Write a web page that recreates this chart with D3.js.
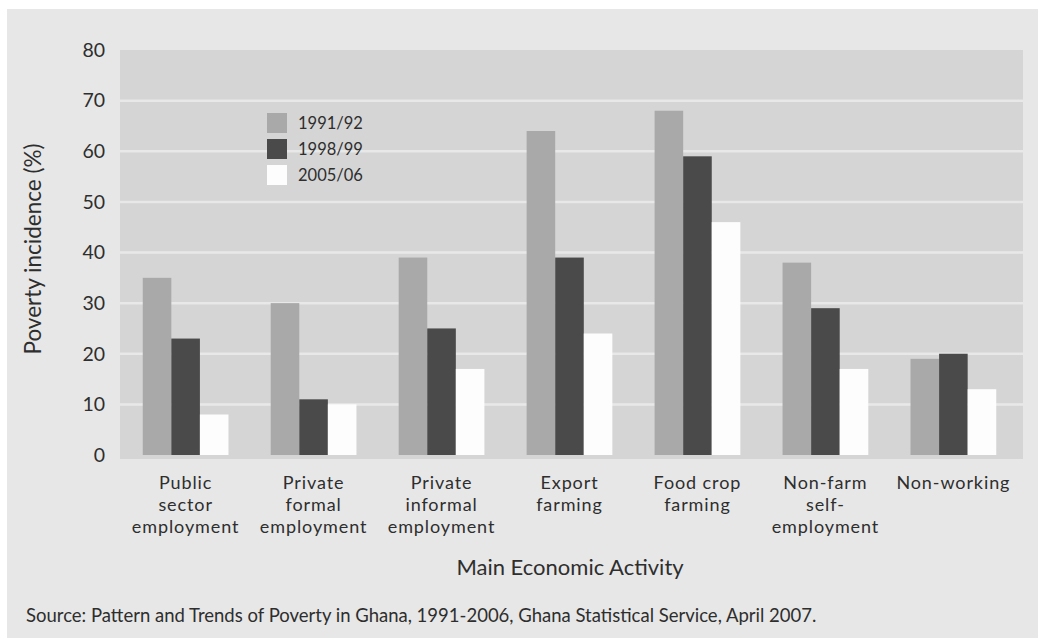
<!DOCTYPE html>
<html><head><meta charset="utf-8">
<script src="https://cdn.jsdelivr.net/npm/d3@7"></script>
<style>
html,body{margin:0;padding:0;background:#fff;}
svg{display:block;}
text{font-family:Lato,"Open Sans",sans-serif;fill:#2e2e2e;}
</style></head>
<body>
<svg id="c" width="1038" height="638"></svg>
<script>
const categories = [
  ["Public","sector","employment"],
  ["Private","formal","employment"],
  ["Private","informal","employment"],
  ["Export","farming"],
  ["Food crop","farming"],
  ["Non-farm","self-","employment"],
  ["Non-working"]
];
const seriesNames = ["1991/92","1998/99","2005/06"];
const v1991 = [35, 30, 39, 64, 68, 38, 19];
const v1998 = [23, 11, 25, 39, 59, 29, 20];
const v2005 = [8, 10, 17, 24, 46, 17, 13];
const yTicks = [0,10,20,30,40,50,60,70,80];
const colors = ["#a9a9a9","#4a4a4a","#fdfdfd"];

const svg = d3.select("#c");
// outer panel
svg.append("rect").attr("x",7).attr("y",9).attr("width",1031).attr("height",629).attr("fill","#e7e7e7");

const plotL = 120, plotR = 1023, plotT = 50, plotB = 455;
const y = d3.scaleLinear().domain([0,80]).range([plotB, plotT]);
const x = d3.scaleBand().domain(d3.range(categories.length)).range([121,1018]).paddingInner(0.33).paddingOuter(0.17);
const xs = d3.scaleBand().domain(d3.range(3)).range([0, x.bandwidth()]);

svg.append("rect").attr("x",plotL).attr("y",plotT).attr("width",plotR-plotL).attr("height",plotB-plotT+4).attr("fill","#d5d5d5");

// gridlines
svg.append("g").selectAll("line").data(yTicks.filter(t=>t>0 && t<80)).join("line")
  .attr("x1",plotL).attr("x2",plotR).attr("y1",d=>y(d)).attr("y2",d=>y(d))
  .attr("stroke","#e8e8e8").attr("stroke-width",2.5);

// y axis labels
const yAxis = d3.axisLeft(y).tickValues(yTicks).tickSize(0).tickPadding(0);
const ya = svg.append("g").attr("transform",`translate(105,0)`).call(yAxis);
ya.select(".domain").remove();
ya.selectAll("text").style("font-size","19.5px").style("font-family","Lato,'Open Sans',sans-serif").attr("fill","#2e2e2e");

// bars
const series = [v1991, v1998, v2005];
series.forEach((vals, si) => {
  svg.append("g").selectAll("rect").data(vals).join("rect")
    .attr("x",(d,i)=>x(i)+xs(si))
    .attr("y",d=>y(d))
    .attr("width",xs.bandwidth())
    .attr("height",d=>plotB - y(d))
    .attr("fill",colors[si]);
});

// x labels
const xl = svg.append("g");
categories.forEach((lines,i)=>{
  const cx = x(i)+x.bandwidth()/2;
  lines.forEach((ln,j)=>{
    xl.append("text").attr("x",cx).attr("y",489 + j*22)
      .attr("text-anchor","middle").style("font-size","18px").style("letter-spacing","0.9px").text(ln);
  });
});

// axis titles
svg.append("text").attr("transform","translate(41,249) rotate(-90)").attr("text-anchor","middle")
  .style("font-size","22.5px").text("Poverty incidence (%)");
svg.append("text").attr("x",570).attr("y",575).attr("text-anchor","middle")
  .style("font-size","22px").text("Main Economic Activity");
svg.append("text").attr("x",26).attr("y",622).style("font-size","18.5px")
  .text("Source: Pattern and Trends of Poverty in Ghana, 1991-2006, Ghana Statistical Service, April 2007.");

// legend
const lg = svg.append("g").attr("transform","translate(267,113)");
seriesNames.forEach((n,i)=>{
  lg.append("rect").attr("x",0).attr("y",i*26).attr("width",20).attr("height",20).attr("fill",colors[i]);
  lg.append("text").attr("x",31).attr("y",i*26+16).style("font-size","16.5px").text(n);
});
</script>
</body></html>
